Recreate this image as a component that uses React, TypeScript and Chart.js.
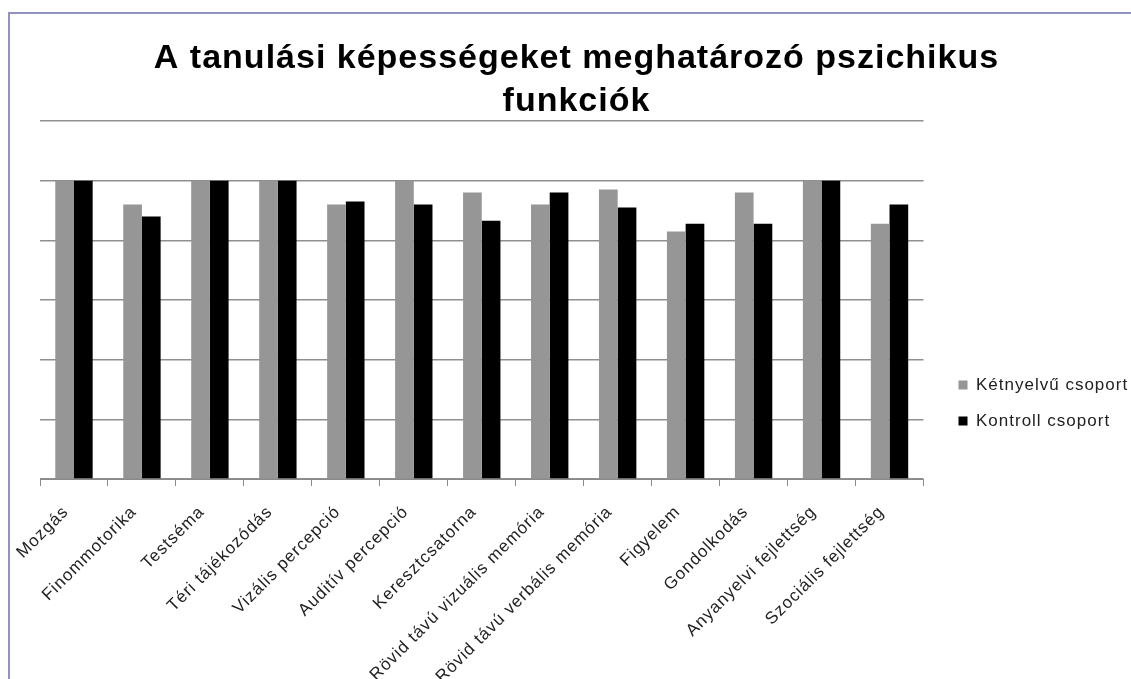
import React, { useEffect, useRef } from "react";
import { Chart, registerables } from "chart.js";

Chart.register(...registerables);

const categories = [
  "Mozgás",
  "Finommotorika",
  "Testséma",
  "Téri tájékozódás",
  "Vizális percepció",
  "Auditív percepció",
  "Keresztcsatorna",
  "Rövid távú vizuális memória",
  "Rövid távú verbális memória",
  "Figyelem",
  "Gondolkodás",
  "Anyanyelvi fejlettség",
  "Szociális fejlettség",
];

const ketnyelvu = [5, 4.6, 5, 5, 4.6, 5, 4.8, 4.6, 4.85, 4.15, 4.8, 5, 4.28];
const kontroll = [5, 4.4, 5, 5, 4.65, 4.6, 4.33, 4.8, 4.55, 4.28, 4.28, 5, 4.6];

const seriesNames = ["Kétnyelvű csoport", "Kontroll csoport"];
const titleLines = ["A tanulási képességeket meghatározó pszichikus", "funkciók"];

const FONT = "'Liberation Sans', Arial, sans-serif";

const spacingPlugin = {
  id: "letterSpacing",
  beforeUpdate(chart: any) {
    try {
      chart.ctx.letterSpacing = "1px";
    } catch (e) {}
  },
  afterLayout(chart: any) {
    // widen the legend's clip box so the letter-spaced text is not cut
    if (chart.legend) {
      chart.legend.width += 20;
      chart.legend.right += 20;
    }
  },
  beforeDraw(chart: any) {
    try {
      chart.ctx.letterSpacing = "1px";
    } catch (e) {}
  },
};

export default function App() {
  const ref = useRef<HTMLCanvasElement | null>(null);

  useEffect(() => {
    if (!ref.current) return;
    const chart = new Chart(ref.current, {
      type: "bar",
      data: {
        labels: categories,
        datasets: [
          {
            label: seriesNames[0],
            data: ketnyelvu,
            backgroundColor: "#969696",
            borderWidth: 0,
            categoryPercentage: 0.55,
            barPercentage: 1,
          },
          {
            label: seriesNames[1],
            data: kontroll,
            backgroundColor: "#000000",
            borderWidth: 0,
            categoryPercentage: 0.55,
            barPercentage: 1,
          },
        ],
      },
      plugins: [spacingPlugin],
      options: {
        responsive: false,
        animation: false,
        layout: { padding: { left: 22, right: 10, top: 0, bottom: 0 } },
        plugins: {
          title: {
            display: true,
            text: titleLines,
            color: "#000",
            font: { family: FONT, size: 34, weight: "bold", lineHeight: 43 / 34 },
            padding: { top: 23.4, bottom: -2.4 },
          },
          legend: {
            position: "right",
            align: "center",
            labels: {
              boxWidth: 9,
              boxHeight: 9,
              padding: 19,
              color: "#222",
              font: { family: FONT, size: 17 },
            },
          },
          tooltip: { enabled: false },
        },
        scales: {
          x: {
            grid: {
              offset: true,
              drawOnChartArea: false,
              drawTicks: true,
              tickLength: 7,
              color: "#8a8a8a",
            },
            border: { color: "#8a8a8a", width: 1 },
            ticks: {
              autoSkip: false,
              minRotation: 45,
              maxRotation: 45,
              color: "#222",
              padding: 16,
              labelOffset: -8,
              font: { family: FONT, size: 17 },
            },
            afterFit: (axis: any) => {
              axis.height = 313;
            },
          },
          y: {
            min: 0,
            max: 6,
            ticks: { stepSize: 1, display: false },
            grid: { color: "#8f8f8f", drawTicks: false, lineWidth: 1.5 },
            border: { display: false },
            afterFit: (axis: any) => {
              axis.width = 8;
            },
          },
          y1: {
            position: "right",
            min: 0,
            max: 6,
            ticks: { display: false },
            grid: { display: false, drawTicks: false },
            border: { display: false },
            afterFit: (axis: any) => {
              axis.width = 16;
            },
          },
        },
      },
    });
    return () => chart.destroy();
  }, []);

  return (
    <div
      style={{
        position: "fixed",
        left: 8,
        top: 12,
        width: 1123,
        height: 667,
        borderTop: "2px solid #9191c4",
        borderLeft: "2px solid #9191c4",
        boxSizing: "border-box",
        overflow: "hidden",
        background: "#fff",
      }}
    >
      <canvas ref={ref} width={1121} height={778} style={{ display: "block" }} />
    </div>
  );
}
